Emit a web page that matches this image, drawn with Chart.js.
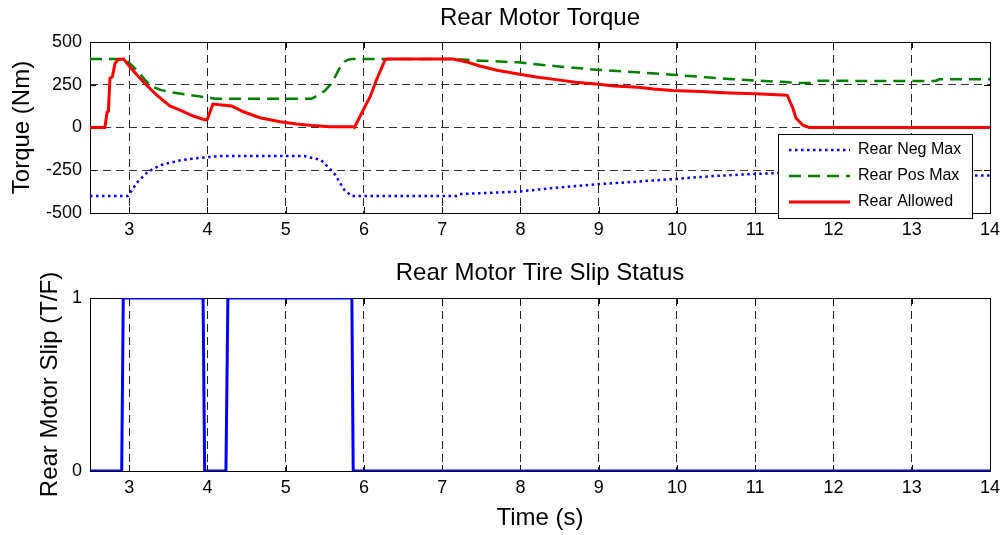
<!DOCTYPE html>
<html lang="en">
<head>
<meta charset="utf-8">
<title>Rear Motor Torque</title>
<style>
  body { margin: 0; background: #fff; }
  canvas { display: block; }
</style>
</head>
<body>
<canvas id="torqueChart" width="1001" height="255"></canvas>
<canvas id="slipChart" width="1001" height="280"></canvas>
<script src="https://cdn.jsdelivr.net/npm/chart.js@4.4.1/dist/chart.umd.min.js"></script>
<script>
// axis ticks
var timeTicks = [3, 4, 5, 6, 7, 8, 9, 10, 11, 12, 13, 14];
var torqueTicks = [-500, -250, 0, 250, 500];
var slipTicks = [0, 1];

// Rear Neg Max (Nm)
var negMaxTime = [2.5, 2.985, 3.11, 3.24, 3.41, 3.67, 3.96, 4.17, 5.24, 5.45, 5.62, 5.75, 5.84, 7.18, 7.22, 7.97, 8.46, 8.97, 9.48, 9.97, 10.46, 10.97, 11.22, 11.5, 11.78, 12.5, 13.3, 13.35, 14];
var negMaxTorque = [-400, -400, -317, -258, -219, -190, -175, -167, -167, -190, -268, -365, -400, -400, -389, -375, -352, -332, -317, -301, -284, -272, -268, -262, -272, -272, -274, -280, -280];

// Rear Pos Max (Nm)
var posMaxTime = [2.5, 2.94, 3.02, 3.11, 3.2, 3.28, 3.4, 3.53, 3.75, 3.9, 4.04, 4.1, 5.33, 5.41, 5.5, 5.59, 5.69, 5.75, 5.8, 5.85, 7.18, 7.48, 7.97, 8.2, 8.46, 8.97, 9.48, 9.94, 10.3, 10.67, 11.01, 11.39, 11.56, 11.7, 11.78, 12.5, 13.3, 13.35, 14];
var posMaxTorque = [400, 400, 370, 329, 280, 241, 220, 206, 192, 182, 172, 168, 168, 188, 215, 260, 348, 385, 397, 400, 400, 391, 381, 370, 358, 338, 323, 309, 296, 284, 274, 266, 260, 262, 274, 272, 272, 282, 282];

// Rear Allowed (Nm)
var allowedTime = [2.5, 2.69, 2.72, 2.735, 2.755, 2.785, 2.82, 2.86, 2.93, 2.99, 3.1, 3.22, 3.35, 3.52, 3.65, 3.82, 3.97, 4.0, 4.07, 4.31, 4.46, 4.67, 4.93, 5.14, 5.35, 5.56, 5.86, 5.88, 5.99, 6.08, 6.16, 6.27, 6.3, 7.14, 7.3, 7.48, 7.7, 7.97, 8.2, 8.46, 8.7, 8.97, 9.2, 9.5, 9.7, 9.94, 10.3, 10.67, 11.0, 11.35, 11.41, 11.48, 11.52, 11.61, 11.69, 14];
var allowedTorque = [0, 0, 92, 95, 288, 297, 375, 398, 400, 365, 307, 249, 190, 126, 102, 67, 44, 48, 137, 126, 92, 57, 34, 20, 11, 5, 5, 0, 102, 180, 278, 395, 400, 400, 385, 360, 335, 313, 295, 280, 265, 254, 243, 235, 225, 217, 210, 202, 198, 190, 188, 114, 56, 13, 0, 0];

// slip flag (T/F)
var slipTime = [2.5, 2.905, 2.925, 3.945, 3.965, 4.237, 4.262, 5.846, 5.863, 14];
var slipState = [0, 0, 1, 1, 0, 0, 1, 1, 0, 0];

function toPoints(xs, ys) {
    return xs.map(function (x, i) { return {x: x, y: ys[i]}; });
}

Chart.defaults.font.family = "'Liberation Sans', Arial, sans-serif";
Chart.defaults.color = '#000';

// axes box with inward tick marks
var framePlugin = {
    id: 'frame',
    beforeDatasetsDraw: function (chart) {
        var ctx = chart.ctx, a = chart.chartArea;
        var xs = chart.scales.x, ys = chart.scales.y;
        ctx.save();
        ctx.strokeStyle = '#000';
        ctx.lineWidth = 1;
        ctx.beginPath();
        xs.ticks.forEach(function (t) {
            var px = Math.round(xs.getPixelForValue(t.value)) + 0.5;
            ctx.moveTo(px, a.bottom); ctx.lineTo(px, a.bottom - 6);
            ctx.moveTo(px, a.top); ctx.lineTo(px, a.top + 6);
        });
        ys.ticks.forEach(function (t) {
            var py = Math.round(ys.getPixelForValue(t.value)) + 0.5;
            ctx.moveTo(a.left, py); ctx.lineTo(a.left + 6, py);
            ctx.moveTo(a.right, py); ctx.lineTo(a.right - 6, py);
        });
        ctx.stroke();
        ctx.strokeRect(a.left + 0.5, a.top + 0.5, a.width, a.height);
        ctx.restore();
    }
};

// boxed legend inside the plot, lower right
var boxLegendPlugin = {
    id: 'boxLegend',
    afterDraw: function (chart, args, opts) {
        if (!opts.display) return;
        var ctx = chart.ctx;
        ctx.save();
        ctx.fillStyle = '#fff';
        ctx.fillRect(opts.left, opts.top, opts.width, opts.height);
        ctx.strokeStyle = '#000';
        ctx.lineWidth = 1;
        ctx.strokeRect(opts.left + 0.5, opts.top + 0.5, opts.width, opts.height);
        ctx.font = "16px 'Liberation Sans', Arial, sans-serif";
        ctx.textBaseline = 'middle';
        ctx.fillStyle = '#000';
        chart.data.datasets.forEach(function (ds, i) {
            var y = opts.top + opts.firstRow + i * opts.rowGap;
            ctx.beginPath();
            ctx.strokeStyle = ds.borderColor;
            ctx.lineWidth = ds.borderWidth;
            ctx.setLineDash(ds.borderDash || []);
            ctx.moveTo(opts.left + 11, y);
            ctx.lineTo(opts.left + 72, y);
            ctx.stroke();
            ctx.setLineDash([]);
            ctx.fillText(ds.label, opts.left + 80, y);
        });
        ctx.restore();
    }
};

function timeScale(height, showTitle) {
    return {
        type: 'linear',
        min: 2.5,
        max: 14,
        afterBuildTicks: function (scale) {
            scale.ticks = timeTicks.map(function (v) { return {value: v}; });
        },
        afterFit: function (scale) {
            scale.height = height;
            scale.paddingLeft = 0;
            scale.paddingRight = 0;
        },
        grid: {color: '#222', lineWidth: 1, drawTicks: false},
        border: {display: false, dash: [8, 5]},
        ticks: {font: {size: 18}, padding: 6, maxRotation: 0},
        title: {
            display: showTitle,
            text: 'Time (s)',
            font: {size: 24},
            padding: {top: 0, bottom: 2}
        }
    };
}

function valueScale(ticks, title, titlePad) {
    return {
        min: ticks[0],
        max: ticks[ticks.length - 1],
        afterBuildTicks: function (scale) {
            scale.ticks = ticks.map(function (v) { return {value: v}; });
        },
        afterFit: function (scale) {
            scale.width = 90;
            scale.paddingTop = 0;
            scale.paddingBottom = 0;
        },
        grid: {color: '#333', lineWidth: 1, drawTicks: false},
        border: {display: false, dash: [8, 5]},
        ticks: {font: {size: 18}, padding: 8},
        title: {
            display: true,
            text: title,
            font: {size: 24},
            padding: {top: titlePad, bottom: 0}
        }
    };
}

var torqueChart = new Chart(document.getElementById('torqueChart'), {
    type: 'line',
    data: {
        datasets: [{
            label: 'Rear Neg Max',
            data: toPoints(negMaxTime, negMaxTorque),
            borderColor: '#0000ff',
            borderWidth: 2.5,
            borderDash: [2.5, 3.5],
            order: 2
        }, {
            label: 'Rear Pos Max',
            data: toPoints(posMaxTime, posMaxTorque),
            borderColor: '#008000',
            borderWidth: 2.5,
            borderDash: [12, 7],
            order: 1
        }, {
            label: 'Rear Allowed',
            data: toPoints(allowedTime, allowedTorque),
            borderColor: '#ff0000',
            borderWidth: 3,
            order: 0
        }]
    },
    options: {
        responsive: false,
        animation: false,
        layout: {padding: {left: 0, right: 11, top: 0, bottom: 0}},
        elements: {point: {radius: 0}, line: {tension: 0, borderCapStyle: 'butt'}},
        scales: {
            x: timeScale(42, false),
            y: valueScale(torqueTicks, 'Torque (Nm)', 8)
        },
        plugins: {
            legend: {display: false},
            tooltip: {enabled: false},
            title: {
                display: true,
                fullSize: false,
                text: 'Rear Motor Torque',
                font: {size: 24, weight: 'normal'},
                padding: {top: 4, bottom: 9.2}
            },
            boxLegend: {display: true, left: 778, top: 134, width: 194, height: 84, firstRow: 16, rowGap: 26}
        }
    },
    plugins: [framePlugin, boxLegendPlugin]
});

var slipChart = new Chart(document.getElementById('slipChart'), {
    type: 'line',
    data: {
        datasets: [{
            label: 'Rear Motor Slip',
            data: toPoints(slipTime, slipState),
            borderColor: '#0000ff',
            borderWidth: 3
        }]
    },
    options: {
        responsive: false,
        animation: false,
        layout: {padding: {left: 0, right: 11, top: 0, bottom: 0}},
        elements: {point: {radius: 0}, line: {tension: 0, borderCapStyle: 'butt'}},
        scales: {
            x: timeScale(64, true),
            y: valueScale(slipTicks, 'Rear Motor Slip (T/F)', 36)
        },
        plugins: {
            legend: {display: false},
            tooltip: {enabled: false},
            title: {
                display: true,
                fullSize: false,
                text: 'Rear Motor Tire Slip Status',
                font: {size: 24, weight: 'normal'},
                padding: {top: 4, bottom: 10.2}
            },
            boxLegend: {display: false}
        }
    },
    plugins: [framePlugin, boxLegendPlugin]
});
</script>
</body>
</html>
